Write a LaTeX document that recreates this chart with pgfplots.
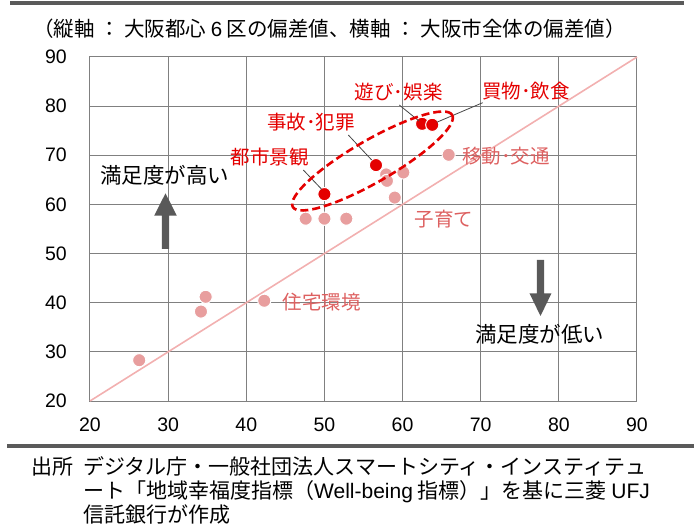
\documentclass[border=0pt]{standalone}
\usepackage{fontspec}
\usepackage{pgfplots}
\pgfplotsset{compat=1.18}
\setmainfont{Noto Sans CJK JP}
\newfontfamily\arial{Liberation Sans}
\definecolor{gridgray}{RGB}{128,128,128}
\definecolor{dotpink}{RGB}{232,158,158}
\definecolor{txtpink}{RGB}{221,96,96}
\definecolor{diagpink}{RGB}{242,176,176}
\definecolor{dotred}{RGB}{228,0,0}
\definecolor{arrowgray}{RGB}{89,89,89}
\definecolor{rulegray}{RGB}{90,90,90}
\definecolor{leader}{RGB}{70,70,70}
\newcommand\fs[1]{\fontsize{#1bp}{#1bp}\selectfont}
\begin{document}
\begin{tikzpicture}
\path[use as bounding box] (-90bp,-131bp) rectangle (604bp,401bp);
\begin{axis}[
  at={(0,0)}, anchor=south west,
  scale only axis, width=547bp, height=344bp,
  xmin=20, xmax=90, ymin=20, ymax=90,
  xtick={20,30,...,90}, ytick={20,30,...,90},
  grid=major,
  major grid style={draw=gridgray, line width=1bp},
  axis line style={draw=gridgray, line width=1bp},
  major tick length=0pt,
  tick label style={font=\arial\fs{19.5}, text=black, inner sep=0pt},
  /pgf/number format/assume math mode=true,
  xticklabel style={anchor=north, yshift=-17bp},
  yticklabel style={anchor=east, xshift=-23bp},
  clip=false,
]
\addplot[draw=diagpink, line width=1.6bp] coordinates {(20,20) (90,90)};
\addplot[only marks, mark=*, mark size=6.6bp, mark options={fill=dotpink, draw=white, line width=1bp}] coordinates {
 (26.3,28.3) (34.2,38.2) (34.8,41.2) (42.3,40.4)
 (47.6,57.1) (50.0,57.1) (52.8,57.1)
 (57.9,66.1) (60.1,66.5) (58.0,64.8) (59.0,61.4) (65.9,70.1)};
\addplot[only marks, mark=*, mark size=6.6bp, mark options={fill=dotred, draw=white, line width=1bp}] coordinates {
 (50.0,62.1) (56.6,68.0) (62.5,76.4) (63.8,76.2)};
\end{axis}
% annotations in pixel coordinates of the reference
\begin{scope}[shift={(-90bp,401bp)}, x=1bp, y=-1bp]
 \fill[rulegray] (10,1.5) rectangle (684,5);
 \fill[rulegray] (7,444) rectangle (694,448);
 \node[anchor=west, inner sep=0pt, font=\fs{20.5}] at (33,29) {（縦軸 ： 大阪都心 {\arial 6} 区の偏差値、横軸 ： 大阪市全体の偏差値）};
 % leader lines
 \draw[leader, line width=0.8bp] (303.3,170) -- (321.7,189.3);
 \draw[leader, line width=0.8bp] (348.3,135) -- (371.7,160);
 \draw[leader, line width=0.8bp] (399.3,105) -- (419,121);
 \draw[leader, line width=0.8bp] (482.7,102.7) -- (436.7,122.3);
 % red labels
 \node[text=dotred, font=\fs{19.5}, inner sep=0pt] at (269.7,157) {都市景観};
 \node[text=dotred, font=\fs{19.5}, inner sep=0pt] at (311,122) {事故･犯罪};
 \node[text=dotred, font=\fs{19.5}, inner sep=0pt] at (398.8,91.7) {遊び･娯楽};
 \node[text=dotred, font=\fs{19.5}, inner sep=0pt] at (526,91) {買物･飲食};
 % pink labels
 \node[text=txtpink, font=\fs{19.5}, inner sep=0pt] at (506,156) {移動･交通};
 \node[text=txtpink, font=\fs{19.5}, inner sep=0pt] at (444,219.5) {子育て};
 \node[text=txtpink, font=\fs{19.5}, inner sep=0pt] at (322,301.7) {住宅環境};
 % black labels
 \node[text=black, font=\fs{21.5}, inner sep=0pt] at (165,175.5) {満足度が高い};
 \node[text=black, font=\fs{21.5}, inner sep=0pt] at (539.7,334.7) {満足度が低い};
 % arrows
 \fill[arrowgray] (161.8,249) -- (169.2,249) -- (169.2,215.7) -- (176.8,215.7) -- (165.5,193.3) -- (154.2,215.7) -- (161.8,215.7) -- cycle;
 \fill[arrowgray] (536.8,260) -- (544.2,260) -- (544.2,293.3) -- (551.5,293.3) -- (540.5,316) -- (529.5,293.3) -- (536.8,293.3) -- cycle;
 % footer
 \node[anchor=west, inner sep=0pt, font=\fs{21}] at (31,466.7) {出所};
 \node[anchor=west, inner sep=0pt, font=\fs{21}] at (83,466.7) {デジタル庁・一般社団法人スマートシティ・インスティテュ};
 \node[anchor=west, inner sep=0pt, font=\fs{21}] at (83,491.5) {ート「地域幸福度指標（{\arial Well-being} 指標）」を基に三菱 {\arial UFJ}};
 \node[anchor=west, inner sep=0pt, font=\fs{21}] at (83,515) {信託銀行が作成};
\end{scope}
% ellipse
\draw[dotred, line width=2.6bp, dash pattern=on 8bp off 4bp, rotate around={30:(282.5bp,240bp)}] (282.5bp,240bp) ellipse [x radius=92bp, y radius=21bp];
\end{tikzpicture}
\end{document}
